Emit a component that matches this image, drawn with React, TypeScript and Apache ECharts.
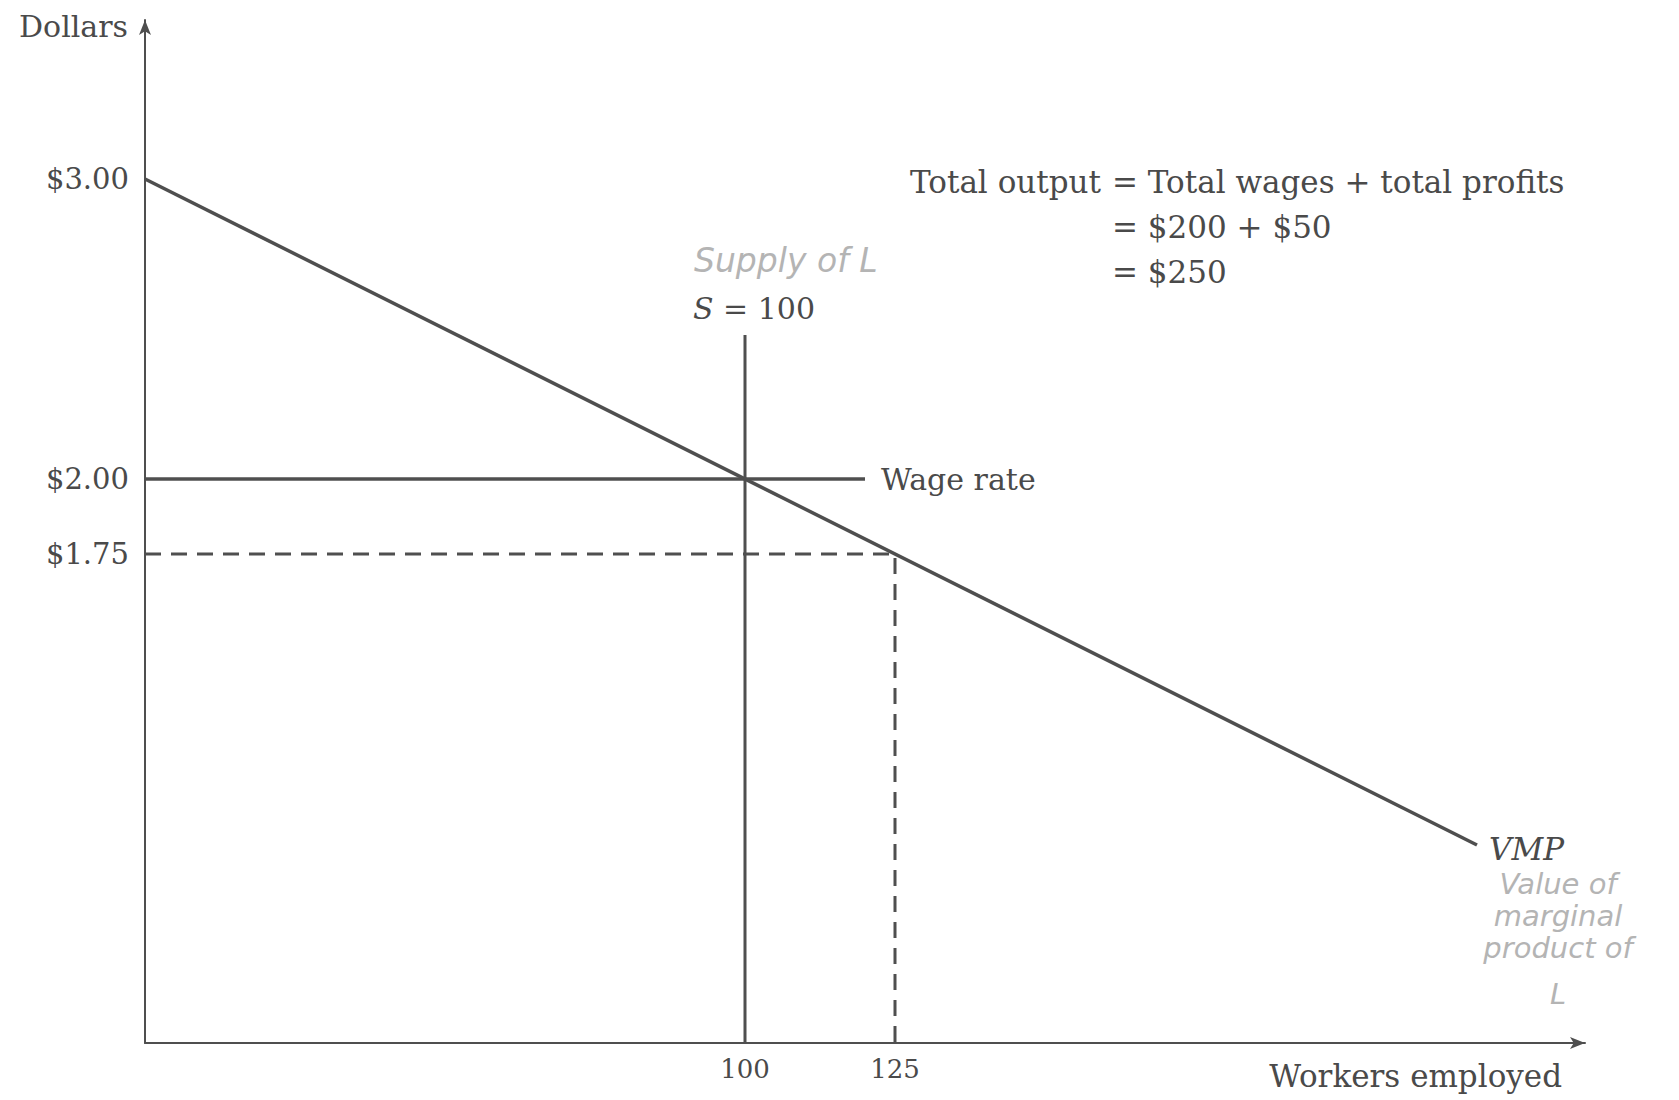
import React, { useEffect, useRef } from "react";
import * as echarts from "echarts";

// ---- data ----
const vmpWorkers = [0, 222];
const vmpDollars = [3.0, 0.78];
const wageWorkers = [0, 120];
const wageRate = 2.0;
const supplyWorkers = 100;
const supplyTop = 2.48;
const marginalWorkers = 125;
const marginalDollars = 1.75;
const yTickValues = [1.75, 2.0, 3.0];
const xTickValues = [100, 125];
const yMin = 0.12;
const yMax = 3.53;
const xMax = 240;
const equationLines = [
  ["Total output", "= Total wages + total profits"],
  ["", "= $200 + $50"],
  ["", "= $250"],
];
const vmpNote = ["Value of", "marginal", "product of", "L"];
const supplyNote = "Supply of L";

const INK = "#4f4f4f";
const TEXT = "#4a4a4a";
const PENCIL = "#b4b4b4";
const SERIF = "'DejaVu Serif', 'Liberation Serif', serif";
const HAND = "'DejaVu Sans', sans-serif";

export default function App() {
  const ref = useRef<HTMLDivElement>(null);
  useEffect(() => {
    document.body.style.margin = "0";
    const chart = echarts.init(ref.current!, undefined, { renderer: "svg" });

    const graphics: any[] = [
      {
        type: "text",
        x: 128,
        y: 26,
        style: { text: "Dollars", fill: TEXT, font: `30px ${SERIF}`, textAlign: "right", textVerticalAlign: "middle" },
      },
      {
        type: "text",
        x: 1562,
        y: 1076,
        style: { text: "Workers employed", fill: TEXT, font: `31px ${SERIF}`, textAlign: "right", textVerticalAlign: "middle" },
      },
      {
        type: "text",
        x: 694,
        y: 260,
        style: { text: supplyNote, fill: PENCIL, font: `italic 33px ${HAND}`, textAlign: "left", textVerticalAlign: "middle" },
      },
    ];
    equationLines.forEach((ln, i) => {
      const y = 182 + i * 45;
      if (ln[0]) {
        graphics.push({
          type: "text",
          x: 1101,
          y,
          style: { text: ln[0], fill: TEXT, font: `31px ${SERIF}`, textAlign: "right", textVerticalAlign: "middle" },
        });
      }
      graphics.push({
        type: "text",
        x: 1112,
        y,
        style: { text: ln[1], fill: TEXT, font: `31px ${SERIF}`, textAlign: "left", textVerticalAlign: "middle" },
      });
    });
    const noteY = [884, 916, 948, 994];
    vmpNote.forEach((t, i) => {
      graphics.push({
        type: "text",
        x: 1558,
        y: noteY[i],
        style: { text: t, fill: PENCIL, font: `italic 29px ${HAND}`, textAlign: "center", textVerticalAlign: "middle" },
      });
    });

    const lineBase = {
      type: "line",
      symbol: "none",
      showSymbol: false,
      silent: true,
      z: 3,
    };

    chart.setOption({
      animation: false,
      backgroundColor: "#ffffff",
      grid: { left: 145, right: 94, top: 20, bottom: 57, containLabel: false },
      xAxis: {
        type: "value",
        min: 0,
        max: xMax,
        splitLine: { show: false },
        axisTick: { show: false },
        axisLine: { show: true, lineStyle: { color: INK, width: 2 }, symbol: ["none", "arrow"], symbolSize: [9, 15] },
        axisLabel: {
          customValues: xTickValues,
          color: TEXT,
          fontFamily: SERIF,
          fontSize: 26,
          margin: 13,
        },
      },
      yAxis: {
        type: "value",
        min: yMin,
        max: yMax,
        splitLine: { show: false },
        axisTick: { show: false },
        axisLine: { show: true, lineStyle: { color: INK, width: 2 }, symbol: ["none", "arrow"], symbolSize: [9, 15] },
        axisLabel: {
          customValues: yTickValues,
          color: TEXT,
          fontFamily: SERIF,
          fontSize: 29,
          margin: 16,
          formatter: (v: number) => "$" + v.toFixed(2),
        },
      },
      graphic: graphics,
      series: [
        {
          ...lineBase,
          name: "VMP",
          data: vmpWorkers.map((w, i) => [w, vmpDollars[i]]),
          lineStyle: { color: INK, width: 3.5 },
          endLabel: {
            show: true,
            formatter: "VMP",
            distance: 12,
            offset: [0, 4],
            color: TEXT,
            fontFamily: SERIF,
            fontStyle: "italic",
            fontSize: 31,
          },
        },
        {
          ...lineBase,
          name: "Wage rate",
          data: wageWorkers.map((w) => [w, wageRate]),
          lineStyle: { color: INK, width: 3.5 },
          endLabel: {
            show: true,
            formatter: "Wage rate",
            distance: 16,
            color: TEXT,
            fontFamily: SERIF,
            fontSize: 30,
          },
        },
        {
          ...lineBase,
          name: "Supply",
          data: [
            [supplyWorkers, yMin],
            [supplyWorkers, supplyTop],
          ],
          lineStyle: { color: INK, width: 3 },
          endLabel: {
            show: true,
            distance: 0,
            offset: [-52, -27],
            formatter: "{i|S} = " + supplyWorkers,
            color: TEXT,
            fontFamily: SERIF,
            fontSize: 30,
            rich: { i: { fontStyle: "italic", fontFamily: SERIF, fontSize: 30, color: TEXT } },
          },
        },
        {
          ...lineBase,
          name: "Marginal",
          data: [
            [0, marginalDollars],
            [marginalWorkers, marginalDollars],
            [marginalWorkers, yMin],
          ],
          lineStyle: { color: INK, width: 3, type: [16, 10] },
        },
      ],
    });
    return () => chart.dispose();
  }, []);
  return <div ref={ref} style={{ width: 1679, height: 1100 }} />;
}
